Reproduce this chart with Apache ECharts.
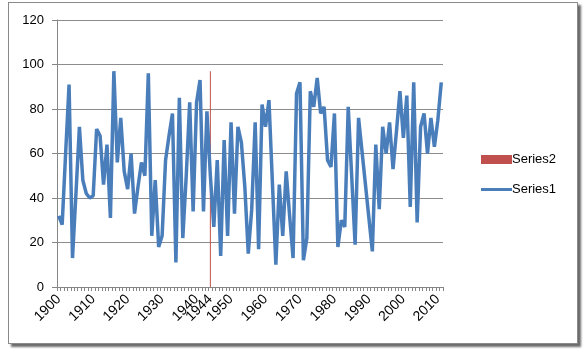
<!DOCTYPE html>
<html>
<head>
<meta charset="utf-8">
<script src="https://cdn.jsdelivr.net/npm/echarts@6/dist/echarts.min.js"></script>
<style>
  html, body { margin: 0; padding: 0; background: #fff; }
  #frame {
    position: absolute; left: 8px; top: 2px; width: 568px; height: 340px;
    border: 1px solid #8a8a8a; box-shadow: 3px 3px 2px #6b6b6b; background: #fff;
  }
  #main { position: absolute; left: 0; top: 0; width: 587px; height: 354px; }
</style>
</head>
<body>
<div id="frame"></div>
<div id="main"></div>
<script>
"use strict";

var startYear = 1900;
var series1 = [
  32, 28, 60, 91, 13, 42, 72, 48, 42, 40,
  41, 71, 68, 46, 64, 31, 97, 56, 76, 52,
  44, 60, 33, 45, 56, 50, 96, 23, 48, 18,
  23, 57, 68, 78, 11, 85, 22, 50, 83, 34,
  83, 93, 34, 79, 50, 27, 57, 14, 66, 23,
  74, 33, 72, 65, 45, 15, 35, 74, 17, 82,
  72, 84, 47, 10, 46, 23, 52, 32, 13, 87,
  92, 12, 22, 88, 81, 94, 78, 81, 57, 54,
  78, 18, 30, 27, 81, 50, 19, 76, 61, 46,
  31, 16, 64, 35, 72, 60, 74, 53, 70, 88,
  67, 86, 36, 92, 29, 72, 78, 60, 76, 63,
  75, 92
];
var markerYear = 1944;
var markerValue = 97;
var yTicks = { min: 0, max: 120, interval: 20 };

var years = series1.map(function (v, i) { return String(startYear + i); });
var series2 = years.map(function (y) { return Number(y) === markerYear ? markerValue : null; });

var chartDom = document.getElementById("main");
var myChart = echarts.init(chartDom);
var font = "'Liberation Sans', 'DejaVu Sans', sans-serif";

var option = {
  animation: false,
  grid: { left: 57, right: 144, top: 20, bottom: 67 },
  legend: {
    orient: "vertical",
    left: 476,
    top: 148,
    itemWidth: 31,
    itemHeight: 9,
    itemGap: 17,
    textStyle: { fontFamily: font, fontSize: 13, color: "#000", padding: [0, 0, 0, -5] },
    data: [
      { name: "Series2", icon: "rect" },
      { name: "Series1", icon: "path://M0,0 L31,0 L31,3 L0,3 Z" },
    ],
  },
  xAxis: {
    type: "category",
    data: years,
    boundaryGap: true,
    axisLine: { lineStyle: { color: "#868686", width: 1 } },
    axisTick: { show: true, interval: 0, length: 4, lineStyle: { color: "#868686" } },
    axisLabel: {
      rotate: 45,
      margin: 10,
      color: "#000",
      fontFamily: font,
      fontSize: 14,
      interval: function (idx, val) {
        return idx % 10 === 0 || Number(val) === markerYear;
      },
    },
    splitLine: { show: false },
  },
  yAxis: {
    type: "value",
    min: yTicks.min,
    max: yTicks.max,
    interval: yTicks.interval,
    axisLine: { show: true, lineStyle: { color: "#868686" } },
    axisTick: { show: true, length: 5, lineStyle: { color: "#868686" } },
    axisLabel: { color: "#000", fontFamily: font, fontSize: 13, margin: 13 },
    splitLine: { lineStyle: { color: "#8c8c8c", width: 1 } },
  },
  series: [
    {
      name: "Series2",
      type: "bar",
      data: series2,
      barWidth: 1,
      itemStyle: { color: "#C0504D" },
      z: 1,
    },
    {
      name: "Series1",
      type: "line",
      data: series1,
      symbol: "none",
      lineStyle: { color: "#4A7EBB", width: 3.5 },
      itemStyle: { color: "#4A7EBB" },
      z: 3,
    },
  ],
};

option && myChart.setOption(option);
</script>
</body>
</html>
